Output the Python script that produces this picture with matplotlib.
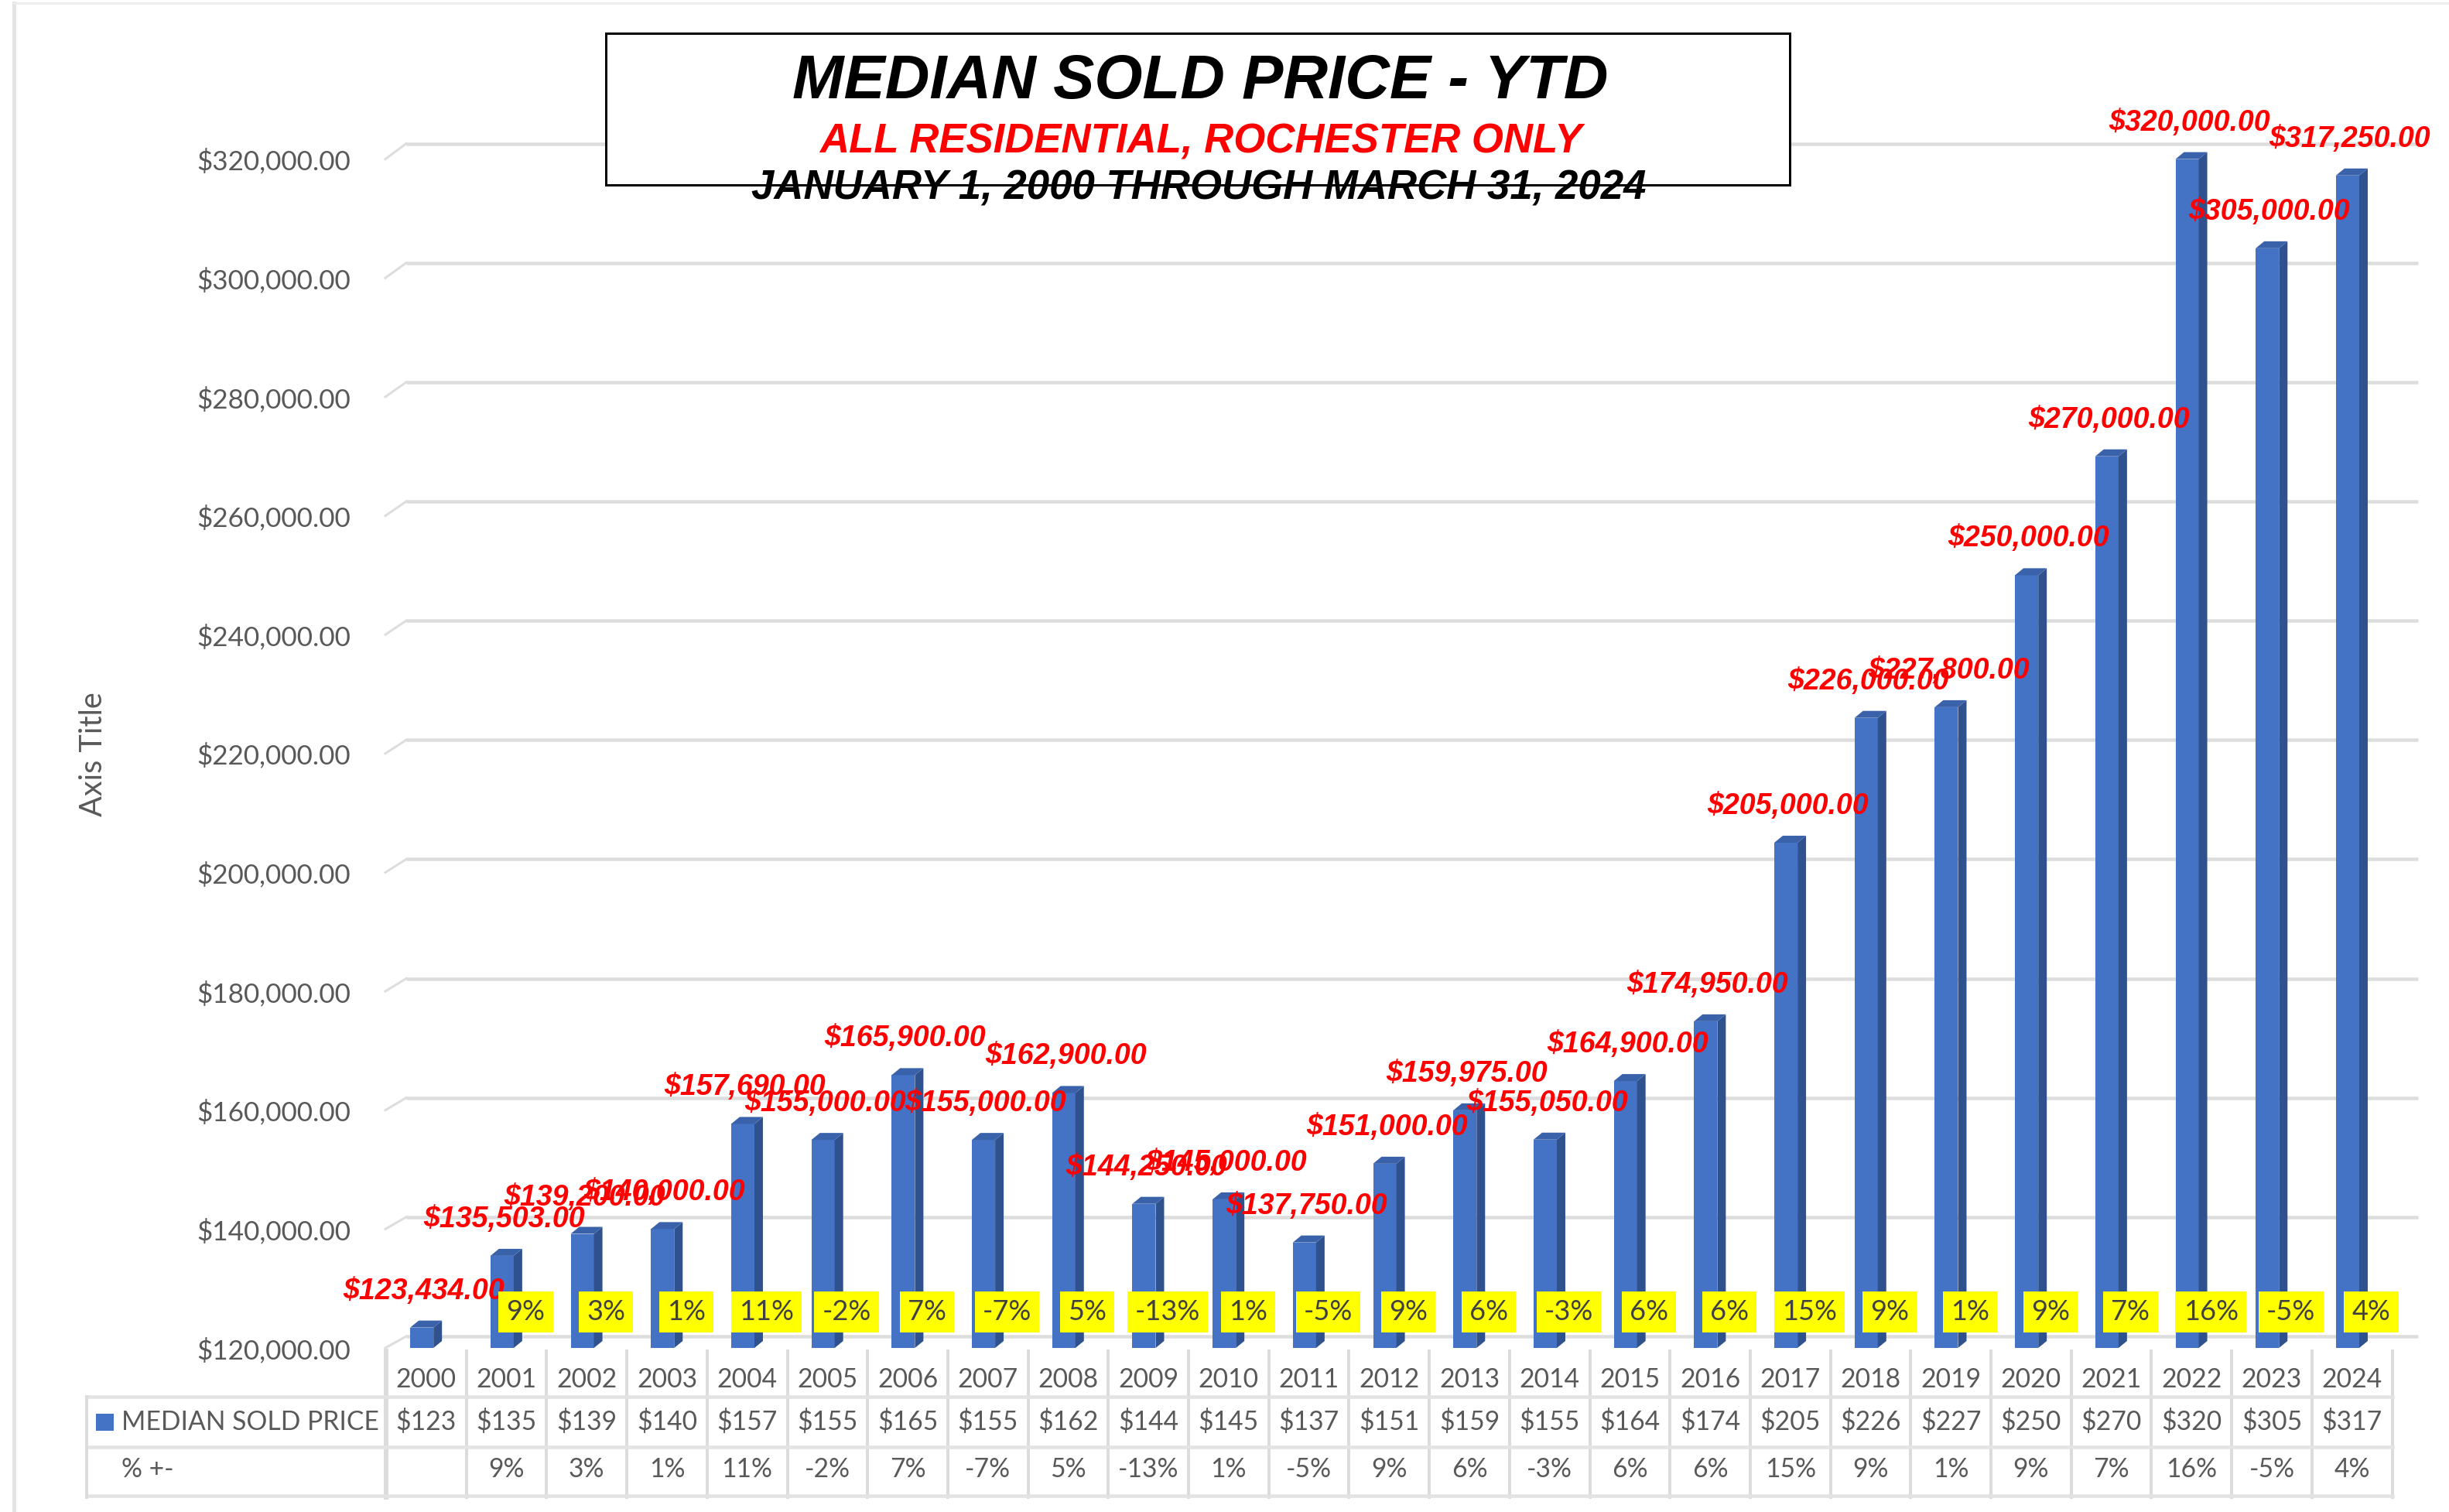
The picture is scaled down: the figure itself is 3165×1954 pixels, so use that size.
import matplotlib
matplotlib.use("Agg")
import matplotlib.pyplot as plt
from matplotlib import transforms
from matplotlib.patches import Rectangle, Polygon
from matplotlib.lines import Line2D

# data
years = [str(y) for y in range(2000, 2025)]
prices = [123434, 135503, 139200, 140000, 157690, 155000, 165900, 155000, 162900,
          144250, 145000, 137750, 151000, 159975, 155050, 164900, 174950, 205000,
          226000, 227800, 250000, 270000, 320000, 305000, 317250]
pct_change = ["", "9%", "3%", "1%", "11%", "-2%", "7%", "-7%", "5%", "-13%", "1%",
              "-5%", "9%", "6%", "-3%", "6%", "6%", "15%", "9%", "1%", "9%", "7%",
              "16%", "-5%", "4%"]
y_ticks = list(range(120000, 340000, 20000))
series_name = "MEDIAN SOLD PRICE"
row2_name = "% +-"

W, H = 3165, 1954
fig = plt.figure(figsize=(W / 100, H / 100), dpi=100)


def fx(px):
    return px / W


def fy(px):
    return 1 - px / H


def pt(px):
    return px * 72 / 100


GREY = "#595959"
BLUE = "#4472C4"
SIDE = "#2F528F"
TOP = "#3A62AA"
LINE = "#DDDDDD"

# plot area (pixels)
ax_left, ax_right, ax_top, ax_bot = 499, 3125, 30, 1742
unit = 103.7
ymin = 120000
px_per_val = 0.007682
ax = fig.add_axes([fx(ax_left), fy(ax_bot), (ax_right - ax_left) / W, (ax_bot - ax_top) / H])
ax.set_xlim(-0.5, -0.5 + (ax_right - ax_left) / unit)
ax.set_ylim(ymin, ymin + (ax_bot - ax_top) / px_per_val)
ax.patch.set_visible(False)
for s in ax.spines.values():
    s.set_visible(False)
ax.set_xticks([])
ax.set_yticks(y_ticks)
ax.set_yticklabels([f"${v:,.2f}" for v in y_ticks], family="Lato", fontsize=25.3, color=GREY)
ax.tick_params(axis="y", length=0, pad=33)

vpp = 1 / px_per_val  # value units per pixel

# back wall gridlines with little slanted floor edge
for v in y_ticks:
    off = (15 + 5 * (v - ymin) / 200000) * vpp
    ax.plot([-0.25, ax.get_xlim()[1]], [v + off, v + off], color=LINE, lw=pt(4.5),
            solid_capstyle="butt", zorder=1, clip_on=False)
    ax.plot([-0.5 - 1 / unit, -0.25], [v, v + off], color=LINE, lw=pt(3),
            zorder=1, clip_on=False)

# 3D-looking columns
fw, depth, dz = 0.29, 0.106, 9 * vpp
for i, v in enumerate(prices):
    x0 = i - 0.2
    x1 = x0 + fw
    ax.add_patch(Rectangle((x0, ymin), fw, v - ymin, fc=BLUE, ec="none", zorder=3))
    ax.add_patch(Polygon([(x1, ymin), (x1 + depth, ymin + dz), (x1 + depth, v + dz), (x1, v)],
                         closed=True, fc=SIDE, ec="none", zorder=3))
    ax.add_patch(Polygon([(x0, v), (x1, v), (x1 + depth, v + dz), (x0 + depth, v + dz)],
                         closed=True, fc=TOP, ec="none", zorder=3))
    ax.annotate(f"${v:,.2f}", (i - 0.03, v), xytext=(0, pt(37)), textcoords="offset points",
                ha="center", va="baseline", color="#FF0000", fontsize=27,
                family="Liberation Sans", weight="bold", style="italic", zorder=5,
                annotation_clip=False)

T = transforms.blended_transform_factory(ax.transData, fig.transFigure)

# yellow percent boxes
for i, p in enumerate(pct_change):
    if not p:
        continue
    ax.text(i + 0.24, fy(1695.5), p, transform=T, ha="center", va="center",
            fontsize=26, family="Lato", color="#404040", zorder=6,
            bbox=dict(boxstyle="square,pad=0.28", fc="#FFFF00", ec="none"))

# data table
tab_left = 112
tab_right = ax_left + 25 * unit
for yy in (1805, 1870, 1933):
    fig.add_artist(Line2D([fx(tab_left), fx(tab_right)], [fy(yy), fy(yy)],
                          color="#E3E3E3", lw=pt(4.5)))
fig.add_artist(Line2D([fx(tab_left), fx(tab_left)], [fy(1805), fy(1935)],
                      color="#DCDCDC", lw=pt(4)))
for k in range(26):
    ax.add_line(Line2D([k - 0.5, k - 0.5], [fy(1746), fy(1935)], transform=T,
                       color="#DCDCDC", lw=pt(6 if k == 0 else 4), clip_on=False))

for i, yr in enumerate(years):
    ax.text(i, fy(1783), yr, transform=T, ha="center", va="center",
            fontsize=24.2, family="Lato", color=GREY)
    ax.text(i, fy(1838), f"${prices[i] // 1000}", transform=T, ha="center", va="center",
            fontsize=24.2, family="Lato", color=GREY)
    ax.text(i, fy(1899), pct_change[i], transform=T, ha="center", va="center",
            fontsize=24.2, family="Lato", color=GREY)

fig.patches.append(Rectangle((fx(124), fy(1849)), 23 / W, 22 / H, transform=fig.transFigure,
                             fc=BLUE, ec="none"))
fig.text(fx(157), fy(1838), series_name, ha="left", va="center", fontsize=24.2,
         family="Lato", color=GREY)
fig.text(fx(157), fy(1899), row2_name, ha="left", va="center", fontsize=24.2,
         family="Lato", color=GREY)

# axis title
fig.text(fx(121), fy(975), "Axis Title", rotation=90, ha="center", va="center",
         fontsize=28.5, family="Lato", color=GREY)

# chart border
fig.add_artist(Line2D([fx(18), fx(18)], [fy(4), 0], color="#E3E3E3", lw=pt(5)))
fig.add_artist(Line2D([fx(18), 1], [fy(4), fy(4)], color="#EDEDED", lw=pt(3)))

# title box
fig.patches.append(Rectangle((fx(783), fy(239)), 1530 / W, 196 / H, transform=fig.transFigure,
                             fc="white", ec="black", lw=pt(3), zorder=8))
tkw = dict(ha="center", va="center", family="Liberation Sans", weight="bold",
           style="italic", zorder=9)
fig.text(fx(1551), fy(106), "MEDIAN SOLD PRICE - YTD", fontsize=57.5, color="black", **tkw)
fig.text(fx(1552), fy(183), "ALL RESIDENTIAL, ROCHESTER ONLY", fontsize=38, color="#FF0000", **tkw)
fig.text(fx(1549), fy(243), "JANUARY 1, 2000 THROUGH MARCH 31, 2024", fontsize=38,
         color="black", **tkw)

fig.savefig("out.png", dpi=100)
